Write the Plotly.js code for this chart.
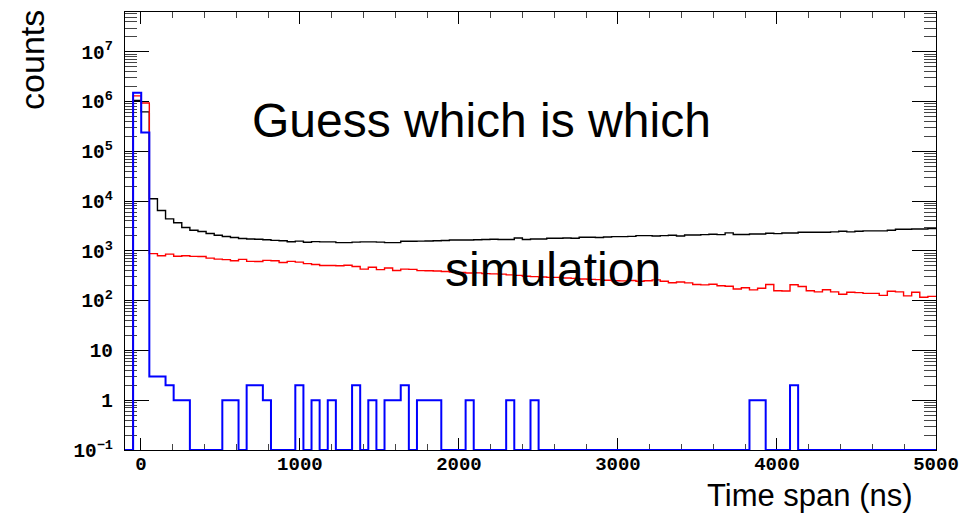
<!DOCTYPE html>
<html>
<head>
<meta charset="utf-8">
<script src="https://cdn.plot.ly/plotly-3.0.1.min.js"></script>
<style>
  html, body { margin: 0; padding: 0; background: #ffffff; }
  #chart { width: 966px; height: 516px; }
</style>
</head>
<body>
<div id="chart"></div>
<script>
// Histogram binning: 100 bins from -100 ns to 5000 ns
const nBins = 100;
const xMin = -100;
const xMax = 5000;

// Counts per bin, black histogram
const blackCounts = [
  0, 1.06e6, 6.2e5, 1.12e4, 6.5e3, 4.4e3, 3.67e3, 2.95e3, 2.6e3, 2.45e3,
  2.24e3, 2.07e3, 1.95e3, 1.86e3, 1.77e3, 1.74e3, 1.71e3, 1.68e3, 1.63e3, 1.6e3,
  1.53e3, 1.57e3, 1.49e3, 1.54e3, 1.52e3, 1.52e3, 1.47e3, 1.47e3, 1.5e3, 1.52e3,
  1.52e3, 1.5e3, 1.47e3, 1.47e3, 1.56e3, 1.56e3, 1.57e3, 1.58e3, 1.6e3, 1.62e3,
  1.66e3, 1.66e3, 1.66e3, 1.68e3, 1.7e3, 1.72e3, 1.7e3, 1.7e3, 1.82e3, 1.7e3,
  1.74e3, 1.74e3, 1.8e3, 1.8e3, 1.82e3, 1.8e3, 1.88e3, 1.88e3, 1.86e3, 1.9e3,
  1.94e3, 1.94e3, 1.96e3, 2.03e3, 2.03e3, 2.0e3, 2.03e3, 2.06e3, 2.0e3, 2.09e3,
  2.09e3, 2.12e3, 2.16e3, 2.12e3, 2.3e3, 2.13e3, 2.13e3, 2.19e3, 2.19e3, 2.26e3,
  2.22e3, 2.29e3, 2.29e3, 2.37e3, 2.37e3, 2.37e3, 2.37e3, 2.41e3, 2.48e3, 2.41e3,
  2.48e3, 2.53e3, 2.53e3, 2.53e3, 2.6e3, 2.72e3, 2.72e3, 2.76e3, 2.76e3, 2.8e3
];

// Counts per bin, red histogram
const redCounts = [
  0, 1.3e6, 9.4e5, 880, 800, 860, 780, 800, 775, 770,
  715, 685, 668, 635, 675, 615, 612, 645, 635, 585,
  615, 595, 555, 535, 508, 510, 505, 515, 485, 430,
  468, 420, 452, 405, 430, 425, 402, 400, 395, 385,
  378, 370, 360, 362, 350, 345, 342, 330, 322, 310,
  305, 300, 294, 294, 285, 281, 272, 268, 265, 258,
  252, 250, 255, 245, 252, 262, 245, 230, 238, 228,
  212, 208, 214, 200, 195, 172, 182, 165, 178, 212,
  158, 156, 209, 193, 158, 150, 166, 150, 135, 148,
  145, 140, 140, 128, 155, 150, 125, 148, 117, 122
];

// Counts per bin, blue histogram
const blueCounts = [
  0, 1.5e6, 2.4e5, 3, 3, 2, 1, 1, 0, 0,
  0, 0, 1, 1, 0, 2, 2, 1, 0, 0,
  0, 2, 0, 1, 0, 1, 0, 0, 2, 0,
  1, 0, 1, 1, 2, 0, 1, 1, 1, 0,
  0, 0, 1, 0, 0, 0, 0, 1, 0, 0,
  1, 0, 0, 0, 0, 0, 0, 0, 0, 0,
  0, 0, 0, 0, 0, 0, 0, 0, 0, 0,
  0, 0, 0, 0, 0, 0, 0, 1, 1, 0,
  0, 0, 2, 0, 0, 0, 0, 0, 0, 0,
  0, 0, 0, 0, 0, 0, 0, 0, 0, 0
];

// Axis ticks and labels
const xTickStep = 1000;
const xMinorStep = 200;
const yLogMin = -1;     // 10^-1
const yLogMax = 7.8;

const textTitle = 'Guess which is which';
const textSim = 'simulation';
const xTitle = 'Time span (ns)';
const yTitle = 'counts';

// Bin edges from the binning definition
const binWidth = (xMax - xMin) / nBins;
const edges = [];
for (let i = 0; i <= nBins; i++) edges.push(xMin + i * binWidth);

// Empty bins sit on the bottom of the log axis
const floorValue = Math.pow(10, yLogMin);
function stepTrace(counts, color, width) {
  const y = counts.map(v => (v > 0 ? v : floorValue));
  y.push(y[y.length - 1]);
  return {
    type: 'scatter',
    mode: 'lines',
    x: edges,
    y: y,
    line: { color: color, width: width, shape: 'hv' },
    hoverinfo: 'skip',
    showlegend: false
  };
}

const traces = [
  stepTrace(blackCounts, '#000000', 1.4),
  stepTrace(redCounts, '#ff0000', 1.4),
  stepTrace(blueCounts, '#0000ff', 2)
];

const tickFont = { family: 'Liberation Mono, DejaVu Sans Mono, monospace', size: 19, color: '#000000', weight: 'bold' };
const sansFont = 'Liberation Sans, Arial, Helvetica, sans-serif';

const layout = {
  width: 966,
  height: 516,
  margin: { l: 125, r: 30, t: 12, b: 66, pad: 0 },
  paper_bgcolor: '#ffffff',
  plot_bgcolor: '#ffffff',
  showlegend: false,
  xaxis: {
    range: [xMin, xMax],
    tick0: 0,
    dtick: xTickStep,
    ticks: 'inside',
    ticklen: 12,
    tickwidth: 1,
    tickcolor: '#000000',
    minor: { ticks: 'inside', dtick: xMinorStep, tick0: 0, ticklen: 6, tickwidth: 1, tickcolor: '#444444' },
    showline: true,
    linecolor: '#000000',
    linewidth: 1,
    mirror: 'ticks',
    showgrid: false,
    zeroline: false,
    tickfont: tickFont,
    ticklabelstandoff: -4,
    layer: 'below traces'
  },
  yaxis: {
    type: 'log',
    range: [yLogMin, yLogMax],
    dtick: 1,
    exponentformat: 'power',
    ticks: 'inside',
    ticklen: 24,
    tickwidth: 1,
    tickcolor: '#000000',
    minor: { ticks: 'inside', dtick: 'D1', ticklen: 12, tickwidth: 1, tickcolor: '#444444' },
    showline: true,
    linecolor: '#000000',
    linewidth: 1,
    mirror: 'ticks',
    showgrid: false,
    zeroline: false,
    tickfont: Object.assign({}, tickFont, { size: 15.5 }),
    ticklabelstandoff: 8,
    layer: 'below traces'
  },
  annotations: [
    {
      text: textTitle, xref: 'paper', yref: 'paper', x: 0.4396, y: 0.753,
      xanchor: 'center', yanchor: 'middle', showarrow: false,
      font: { family: sansFont, size: 48, color: '#000000' }
    },
    {
      text: textSim, xref: 'paper', yref: 'paper', x: 0.528, y: 0.411,
      xanchor: 'center', yanchor: 'middle', showarrow: false,
      font: { family: sansFont, size: 48, color: '#000000' }
    },
    {
      text: xTitle, xref: 'paper', yref: 'paper', x: 0.974, y: -0.103,
      xanchor: 'right', yanchor: 'middle', showarrow: false,
      font: { family: sansFont, size: 31, color: '#000000' }
    },
    {
      text: yTitle, xref: 'paper', yref: 'paper', x: -0.115, y: 0.89,
      xanchor: 'center', yanchor: 'middle', showarrow: false, textangle: -90,
      font: { family: sansFont, size: 34, color: '#000000' }
    }
  ]
};

Plotly.newPlot('chart', traces, layout, { staticPlot: true, displayModeBar: false });
</script>
</body>
</html>
